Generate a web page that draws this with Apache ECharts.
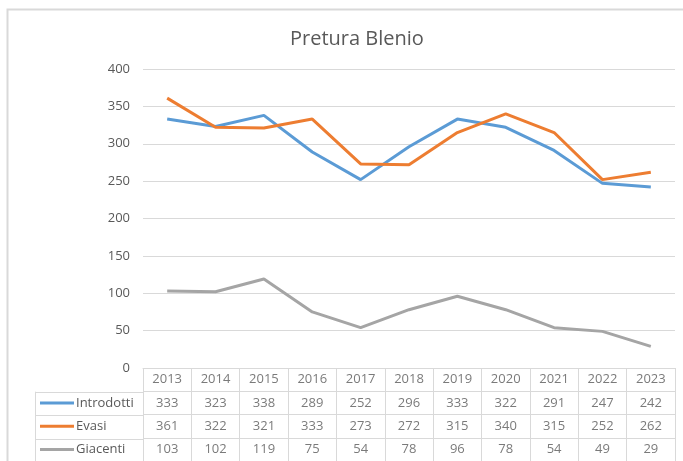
<!DOCTYPE html>
<html>
<head>
<meta charset="utf-8">
<script src="https://cdn.jsdelivr.net/npm/echarts@6/dist/echarts.min.js"></script>
<style>
  html, body { margin: 0; padding: 0; background: #fff; }
  #chart { width: 683px; height: 461px; }
</style>
</head>
<body>
<div id="chart"></div>
<script>
// dati
const years = ['2013', '2014', '2015', '2016', '2017', '2018', '2019', '2020', '2021', '2022', '2023']
const introdotti = [333, 323, 338, 289, 252, 296, 333, 322, 291, 247, 242]
const evasi = [361, 322, 321, 333, 273, 272, 315, 340, 315, 252, 262]
const giacenti = [103, 102, 119, 75, 54, 78, 96, 78, 54, 49, 29]
const seriesNames = ['Introdotti', 'Evasi', 'Giacenti']
const colors = ['#5B9BD5', '#ED7D31', '#A5A5A5']

const font = 'Liberation Sans Narrow, Open Sans, sans-serif'
const textColor = '#595959'
const lineColor = '#D9D9D9'

// layout tabella
const gridLeft = 143
const gridRight = 8
const plotTop = 69
const tableTop = 368
const rowH = 23.7
const nameLeft = 35

const allData = [introdotti, evasi, giacenti]

// celle della tabella (riga 0 = anni)
const cells = []
years.forEach((y, i) => cells.push([i, 0, y]))
allData.forEach((arr, r) => arr.forEach((v, i) => cells.push([i, r + 1, v])))

// bordi colonna nomi
const borders = []
for (let r = 1; r <= 4; r++) {
    const y = Math.round(tableTop + r * rowH) + 0.5
    borders.push({ type: 'line', shape: { x1: nameLeft, y1: y, x2: gridLeft, y2: y }, style: { stroke: lineColor, lineWidth: 1 } })
}
borders.push({ type: 'line', shape: { x1: nameLeft + 0.5, y1: tableTop + rowH, x2: nameLeft + 0.5, y2: tableTop + 4 * rowH }, style: { stroke: lineColor, lineWidth: 1 } })

const myChart = echarts.init(document.getElementById('chart'))
const option = {
    animation: false,
    title: {
        text: 'Pretura Blenio',
        left: 285,
        top: 24,
        textStyle: { color: textColor, fontSize: 20, fontWeight: 'normal', fontFamily: font }
    },
    graphic: [
        { type: 'rect', shape: { x: 7.5, y: 9.5, width: 720, height: 500 }, style: { fill: 'none', stroke: lineColor, lineWidth: 2 } }
    ].concat(borders),
    grid: [
        { left: gridLeft, right: gridRight, top: plotTop, height: tableTop - plotTop },
        { left: gridLeft, right: gridRight, top: tableTop, height: rowH * 4 }
    ],
    xAxis: [{
        type: 'category',
        data: years,
        gridIndex: 0,
        axisLine: { lineStyle: { color: lineColor } },
        axisTick: { show: false },
        axisLabel: { show: false }
    }, {
        type: 'category',
        data: years,
        gridIndex: 1,
        axisLine: { show: false },
        axisTick: { show: false },
        axisLabel: { show: false },
        splitLine: { show: true, interval: 0, lineStyle: { color: lineColor } }
    }],
    yAxis: [{
        type: 'value',
        gridIndex: 0,
        min: 0,
        max: 400,
        interval: 50,
        axisLine: { show: false },
        axisTick: { show: false },
        axisLabel: { color: textColor, fontSize: 13, fontFamily: font, margin: 13 },
        splitLine: { lineStyle: { color: lineColor } }
    }, {
        type: 'category',
        gridIndex: 1,
        inverse: true,
        data: [''].concat(seriesNames),
        axisLine: { show: false },
        axisTick: { show: false },
        splitLine: { show: true, interval: 0, lineStyle: { color: lineColor } },
        axisLabel: {
            interval: 0,
            align: 'left',
            margin: gridLeft - 40,
            formatter: function (value, idx) {
                if (!value) return ''
                return '{s' + idx + '|}{t|' + value + '}'
            },
            rich: {
                s1: { width: 34, height: 3, backgroundColor: colors[0] },
                s2: { width: 34, height: 3, backgroundColor: colors[1] },
                s3: { width: 34, height: 3, backgroundColor: colors[2] },
                t: { color: textColor, fontSize: 13, fontFamily: font, padding: [0, 0, 0, 2] }
            }
        }
    }],
    series: seriesNames.map((name, k) => ({
        name: name,
        type: 'line',
        xAxisIndex: 0,
        yAxisIndex: 0,
        data: allData[k],
        showSymbol: false,
        symbol: 'none',
        lineStyle: { color: colors[k], width: 3 },
        itemStyle: { color: colors[k] }
    })).concat([{
        type: 'scatter',
        xAxisIndex: 1,
        yAxisIndex: 1,
        data: cells,
        symbolSize: 1,
        itemStyle: { color: 'rgba(0,0,0,0)' },
        label: {
            show: true,
            position: 'inside',
            color: textColor,
            fontSize: 13,
            fontFamily: font,
            formatter: p => p.value[2]
        }
    }])
};
myChart.setOption(option)
</script>
</body>
</html>
